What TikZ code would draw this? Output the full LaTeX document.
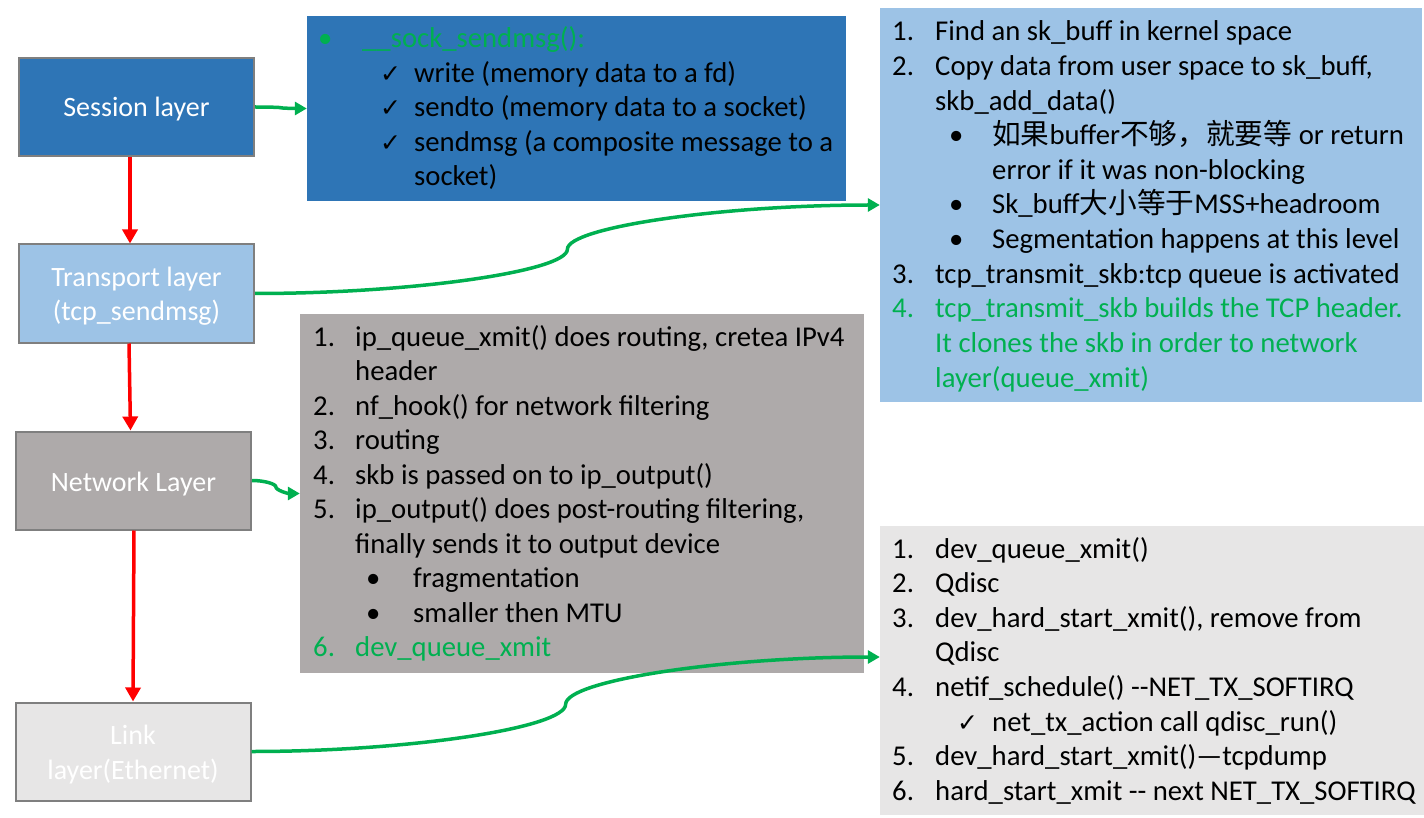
\documentclass[tikz,border=0pt]{standalone}
\usepackage{fontspec}
\setmainfont{Carlito}
\newfontfamily\cjk{Noto Sans CJK SC}
\newfontfamily\dejavu{DejaVu Sans}
\usetikzlibrary{arrows.meta,calc}
\definecolor{sessblue}{HTML}{2E75B6}
\definecolor{ltblue}{HTML}{9DC3E6}
\definecolor{netgray}{HTML}{AEAAAA}
\definecolor{ltgray}{HTML}{E7E6E6}
\definecolor{pptgreen}{HTML}{00B050}
\definecolor{pptred}{HTML}{FF0000}
\definecolor{bordergray}{HTML}{7F7F7F}
\newcommand\chk{{\dejavu\fontsize{25}{28}\selectfont ✓}}
\newcommand\pptconn[2]{%
  \draw[gline] let \p1=(#1), \p2=(#2) in (\p1)
    .. controls ({\x1+0.25*(\x2-\x1)},{\y1}) and ({\x1+0.5*(\x2-\x1)},{\y1+0.25*(\y2-\y1)})
    .. ({\x1+0.5*(\x2-\x1)},{\y1+0.5*(\y2-\y1)})
    .. controls ({\x1+0.5*(\x2-\x1)},{\y1+0.75*(\y2-\y1)}) and ({\x1+0.75*(\x2-\x1)},{\y2})
    .. (\p2);}
\begin{document}
\begin{tikzpicture}[x=1pt,y=-1pt,
  layer/.style={draw=bordergray, line width=2pt, minimum width=235pt, minimum height=98pt, inner sep=0pt},
  layertext/.style={text=white, align=center, inner sep=0pt, font=\fontsize{28}{34.5}\selectfont},
  tbox/.style={inner sep=0pt, draw=none},
  tl/.style={anchor=base west, inner sep=0pt, font=\fontsize{28.7}{34}\selectfont},
  gtl/.style={tl, text=pptgreen},
  rarrow/.style={draw=pptred, line width=3.5pt, -{Triangle[length=14pt,width=15pt]}},
  gline/.style={draw=pptgreen, line width=3.5pt, -{Triangle[length=12pt,width=13pt]}}
]
\useasboundingbox (0,0) rectangle (1424,818);
% layer boxes
\node[layer, fill=sessblue] (sess) at (136.5,107) {};
\node[layer, fill=ltblue] (trans) at (136.5,293.5) {};
\node[layer, fill=netgray] (net) at (133.5,480.5) {};
\node[layer, fill=ltgray] (link) at (133,751.5) {};
\node[layertext] (sesst) at ([yshift=-2pt]sess.center) {Session layer};
\node[layertext] (transt) at ([yshift=-2.5pt]trans.center) {Transport layer\\(tcp\_sendmsg)};
\node[layertext] (nett) at ([yshift=-3.5pt]net.center) {Network Layer};
\node[layertext] (linkt) at ([yshift=-3pt]link.center) {Link\\layer(Ethernet)};
% text boxes
\node[tbox, fill=sessblue, minimum width=539pt, minimum height=185pt] (blue) at (576.5,108.5) {};
\node[tbox, fill=ltblue, minimum width=542pt, minimum height=394pt] (lb) at (1151,205) {};
\node[tbox, fill=netgray, minimum width=564pt, minimum height=359pt] (gray) at (582,493.5) {};
\node[tbox, fill=ltgray, minimum width=544pt, minimum height=289pt] (lg) at (1152,670.5) {};
% red arrows
\draw[rarrow] ([xshift=-6.5pt]sess.south) -- ([xshift=-6.5pt]trans.north);
\draw[rarrow] ([xshift=-7.5pt]trans.south) -- ([xshift=-3pt]net.north);
\draw[rarrow] ([xshift=0.5pt]net.south) -- (link.north);
% green connectors
\pptconn{sess.east}{blue.west}
\pptconn{trans.east}{lb.west}
\pptconn{net.east}{gray.west}
\pptconn{link.east}{[yshift=13.5pt]lg.west}
% blue box text
\node[gtl] (b0) at (318,48) {•};
\node[gtl] (b1) at (362,48) {\_\_sock\_sendmsg():};
\node[tl] (b2c) at (380,82.5) {\chk};
\node[tl] (b2) at (414,82.5) {write (memory data to a fd)};
\node[tl] (b3c) at (380,117) {\chk};
\node[tl] (b3) at (414,117) {sendto (memory data to a socket)};
\node[tl] (b4c) at (380,151.5) {\chk};
\node[tl] (b4) at (414,151.5) {sendmsg (a composite message to a};
\node[tl] (b5) at (414,186) {socket)};
% light blue box text
\node[tl] (l1n) at (892,41) {1.};
\node[tl] (l1) at (935,41) {Find an sk\_buff in kernel space};
\node[tl] (l2n) at (892,75.6) {2.};
\node[tl] (l2) at (935,75.6) {Copy data from user space to sk\_buff,};
\node[tl] (l3) at (935,110.2) {skb\_add\_data()};
\node[tl] (l4b) at (949,144.8) {•};
\node[tl] (l4) at (992,144.8) {{\cjk 如果}buffer{\cjk 不够，就要等} or return};
\node[tl] (l5) at (992,179.4) {error if it was non-blocking};
\node[tl] (l6b) at (949,214) {•};
\node[tl] (l6) at (992,214) {Sk\_buff{\cjk 大小等于}MSS+headroom};
\node[tl] (l7b) at (949,248.6) {•};
\node[tl] (l7) at (992,248.6) {Segmentation happens at this level};
\node[tl] (l8n) at (892,283.2) {3.};
\node[tl] (l8) at (935,283.2) {tcp\_transmit\_skb:tcp queue is activated};
\node[gtl] (l9n) at (892,317.8) {4.};
\node[gtl] (l9) at (935,317.8) {tcp\_transmit\_skb builds the TCP header.};
\node[gtl] (l10) at (935,352.4) {It clones the skb in order to network};
\node[gtl] (l11) at (935,387) {layer(queue\_xmit)};
% gray box text
\node[tl] (g1n) at (313,346) {1.};
\node[tl] (g1) at (355,346) {ip\_queue\_xmit() does routing, cretea IPv4};
\node[tl] (g2) at (355,380.5) {header};
\node[tl] (g3n) at (313,415) {2.};
\node[tl] (g3) at (355,415) {nf\_hook() for network filtering};
\node[tl] (g4n) at (313,449.5) {3.};
\node[tl] (g4) at (355,449.5) {routing};
\node[tl] (g5n) at (313,484) {4.};
\node[tl] (g5) at (355,484) {skb is passed on to ip\_output()};
\node[tl] (g6n) at (313,518.5) {5.};
\node[tl] (g6) at (355,518.5) {ip\_output() does post-routing filtering,};
\node[tl] (g7) at (355,553) {finally sends it to output device};
\node[tl] (g8b) at (366,587.5) {•};
\node[tl] (g8) at (413,587.5) {fragmentation};
\node[tl] (g9b) at (366,622) {•};
\node[tl] (g9) at (413,622) {smaller then MTU};
\node[gtl] (g10n) at (313,656.5) {6.};
\node[gtl] (g10) at (355,656.5) {dev\_queue\_xmit};
% light gray box text
\node[tl] (d1n) at (892,558) {1.};
\node[tl] (d1) at (935,558) {dev\_queue\_xmit()};
\node[tl] (d2n) at (892,592.6) {2.};
\node[tl] (d2) at (935,592.6) {Qdisc};
\node[tl] (d3n) at (892,627.2) {3.};
\node[tl] (d3) at (935,627.2) {dev\_hard\_start\_xmit(), remove from};
\node[tl] (d4) at (935,661.8) {Qdisc};
\node[tl] (d5n) at (892,696.4) {4.};
\node[tl] (d5) at (935,696.4) {netif\_schedule() -\kern0pt-NET\_TX\_SOFTIRQ};
\node[tl] (d6c) at (957,731) {\chk};
\node[tl] (d6) at (992,731) {net\_tx\_action call qdisc\_run()};
\node[tl] (d7n) at (892,765.6) {5.};
\node[tl] (d7) at (935,765.6) {dev\_hard\_start\_xmit()—tcpdump};
\node[tl] (d8n) at (892,800.2) {6.};
\node[tl] (d8) at (935,800.2) {hard\_start\_xmit -\kern0pt- next NET\_TX\_SOFTIRQ};
\end{tikzpicture}
\end{document}
